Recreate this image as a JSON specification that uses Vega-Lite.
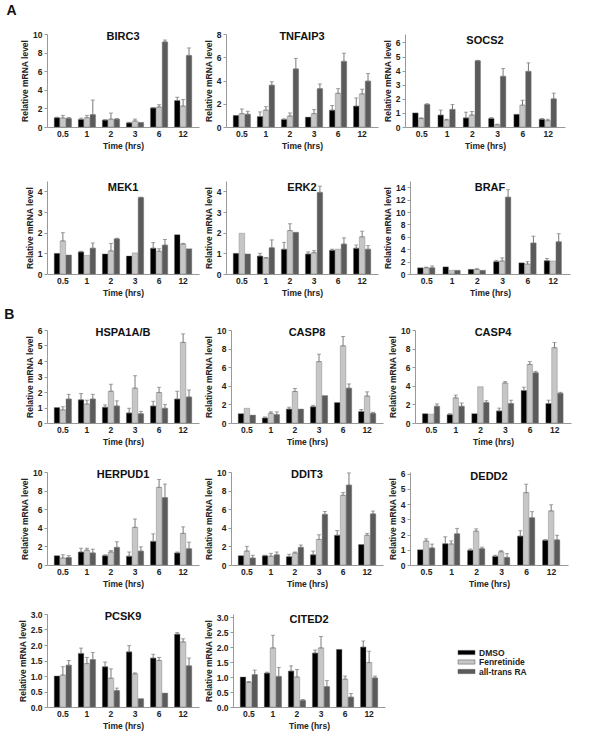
{
"$schema":"https://vega.github.io/schema/vega-lite/v6.json",
"padding":{"left":4,"top":4,"right":4,"bottom":2},
"background":"white",
"config":{
 "view":{"stroke":null},
 "font":"Liberation Sans",
 "axis":{"labelFont":"Liberation Sans","titleFont":"Liberation Sans","labelFontWeight":"bold","titleFontWeight":"bold","labelFontSize":8.5,"titleFontSize":8.5,"labelColor":"#222","titleColor":"#222","domainColor":"#999","tickColor":"#999","grid":false,"labelOverlap":false},
 "axisX":{"ticks":false,"labelAngle":0,"labelPadding":2,"titlePadding":4},
 "axisY":{"tickSize":3,"labelPadding":2,"titlePadding":3},
 "title":{"font":"Liberation Sans","fontSize":11,"fontWeight":"bold","color":"#111","offset":-12,"frame":"group"},
 "errorbar":{"ticks":{"size":4,"color":"#7a7a7a","thickness":1},"rule":{"color":"#7a7a7a","strokeWidth":1}},
 "legend":{"orient":"none","legendX":415,"legendY":614,"symbolType":"M-2,-0.5H2V0.5H-2Z","symbolSize":72,"symbolStrokeColor":"#555","symbolStrokeWidth":0.5,"labelFont":"Liberation Sans","labelFontSize":8.5,"labelFontWeight":"bold","labelColor":"#222","rowPadding":0.5,"labelOffset":8}
},
"data":{"values":[
{"g":"BIRC3","t":"0.5","s":"DMSO","v":1.0,"hi":1.05},{"g":"BIRC3","t":"0.5","s":"Fenretinide","v":0.97,"hi":1.25},{"g":"BIRC3","t":"0.5","s":"all-trans RA","v":0.92,"hi":1.02},
{"g":"BIRC3","t":"1","s":"DMSO","v":0.82,"hi":0.95},{"g":"BIRC3","t":"1","s":"Fenretinide","v":1.0,"hi":1.25},{"g":"BIRC3","t":"1","s":"all-trans RA","v":1.33,"hi":2.9},
{"g":"BIRC3","t":"2","s":"DMSO","v":0.75,"hi":0.78},{"g":"BIRC3","t":"2","s":"Fenretinide","v":0.85,"hi":1.5},{"g":"BIRC3","t":"2","s":"all-trans RA","v":0.85,"hi":0.9},
{"g":"BIRC3","t":"3","s":"DMSO","v":0.45,"hi":0.5},{"g":"BIRC3","t":"3","s":"Fenretinide","v":0.65,"hi":0.85},{"g":"BIRC3","t":"3","s":"all-trans RA","v":0.5,"hi":0.5},
{"g":"BIRC3","t":"6","s":"DMSO","v":2.05,"hi":2.1},{"g":"BIRC3","t":"6","s":"Fenretinide","v":2.15,"hi":2.4},{"g":"BIRC3","t":"6","s":"all-trans RA","v":9.15,"hi":9.35},
{"g":"BIRC3","t":"12","s":"DMSO","v":2.85,"hi":3.2},{"g":"BIRC3","t":"12","s":"Fenretinide","v":2.25,"hi":2.95},{"g":"BIRC3","t":"12","s":"all-trans RA","v":7.7,"hi":8.5},
{"g":"TNFAIP3","t":"0.5","s":"DMSO","v":1.0,"hi":1.0},{"g":"TNFAIP3","t":"0.5","s":"Fenretinide","v":1.15,"hi":1.55},{"g":"TNFAIP3","t":"0.5","s":"all-trans RA","v":1.1,"hi":1.35},
{"g":"TNFAIP3","t":"1","s":"DMSO","v":0.9,"hi":1.3},{"g":"TNFAIP3","t":"1","s":"Fenretinide","v":1.45,"hi":1.75},{"g":"TNFAIP3","t":"1","s":"all-trans RA","v":3.6,"hi":3.9},
{"g":"TNFAIP3","t":"2","s":"DMSO","v":0.65,"hi":0.7},{"g":"TNFAIP3","t":"2","s":"Fenretinide","v":0.95,"hi":1.2},{"g":"TNFAIP3","t":"2","s":"all-trans RA","v":5.0,"hi":5.9},
{"g":"TNFAIP3","t":"3","s":"DMSO","v":0.85,"hi":0.85},{"g":"TNFAIP3","t":"3","s":"Fenretinide","v":1.15,"hi":1.5},{"g":"TNFAIP3","t":"3","s":"all-trans RA","v":3.3,"hi":3.7},
{"g":"TNFAIP3","t":"6","s":"DMSO","v":1.45,"hi":1.85},{"g":"TNFAIP3","t":"6","s":"Fenretinide","v":2.9,"hi":3.3},{"g":"TNFAIP3","t":"6","s":"all-trans RA","v":5.65,"hi":6.35},
{"g":"TNFAIP3","t":"12","s":"DMSO","v":1.8,"hi":2.5},{"g":"TNFAIP3","t":"12","s":"Fenretinide","v":2.85,"hi":3.25},{"g":"TNFAIP3","t":"12","s":"all-trans RA","v":3.95,"hi":4.6},
{"g":"SOCS2","t":"0.5","s":"DMSO","v":1.0,"hi":1.0},{"g":"SOCS2","t":"0.5","s":"Fenretinide","v":0.6,"hi":0.65},{"g":"SOCS2","t":"0.5","s":"all-trans RA","v":1.6,"hi":1.65},
{"g":"SOCS2","t":"1","s":"DMSO","v":0.85,"hi":1.2},{"g":"SOCS2","t":"1","s":"Fenretinide","v":0.5,"hi":0.55},{"g":"SOCS2","t":"1","s":"all-trans RA","v":1.25,"hi":1.6},
{"g":"SOCS2","t":"2","s":"DMSO","v":0.65,"hi":1.05},{"g":"SOCS2","t":"2","s":"Fenretinide","v":0.85,"hi":1.1},{"g":"SOCS2","t":"2","s":"all-trans RA","v":4.7,"hi":4.73},
{"g":"SOCS2","t":"3","s":"DMSO","v":0.6,"hi":0.67},{"g":"SOCS2","t":"3","s":"Fenretinide","v":0.15,"hi":0.2},{"g":"SOCS2","t":"3","s":"all-trans RA","v":3.6,"hi":4.15},
{"g":"SOCS2","t":"6","s":"DMSO","v":0.9,"hi":0.9},{"g":"SOCS2","t":"6","s":"Fenretinide","v":1.55,"hi":1.9},{"g":"SOCS2","t":"6","s":"all-trans RA","v":3.95,"hi":4.55},
{"g":"SOCS2","t":"12","s":"DMSO","v":0.55,"hi":0.6},{"g":"SOCS2","t":"12","s":"Fenretinide","v":0.45,"hi":0.55},{"g":"SOCS2","t":"12","s":"all-trans RA","v":2.0,"hi":2.4},
{"g":"MEK1","t":"0.5","s":"DMSO","v":1.0,"hi":1.0},{"g":"MEK1","t":"0.5","s":"Fenretinide","v":1.6,"hi":2.0},{"g":"MEK1","t":"0.5","s":"all-trans RA","v":0.92,"hi":0.92},
{"g":"MEK1","t":"1","s":"DMSO","v":1.07,"hi":1.1},{"g":"MEK1","t":"1","s":"Fenretinide","v":0.9,"hi":0.9},{"g":"MEK1","t":"1","s":"all-trans RA","v":1.25,"hi":1.5},
{"g":"MEK1","t":"2","s":"DMSO","v":0.97,"hi":0.97},{"g":"MEK1","t":"2","s":"Fenretinide","v":1.12,"hi":1.48},{"g":"MEK1","t":"2","s":"all-trans RA","v":1.7,"hi":1.73},
{"g":"MEK1","t":"3","s":"DMSO","v":0.87,"hi":0.87},{"g":"MEK1","t":"3","s":"Fenretinide","v":1.02,"hi":1.02},{"g":"MEK1","t":"3","s":"all-trans RA","v":3.7,"hi":3.72},
{"g":"MEK1","t":"6","s":"DMSO","v":1.25,"hi":1.52},{"g":"MEK1","t":"6","s":"Fenretinide","v":1.1,"hi":1.22},{"g":"MEK1","t":"6","s":"all-trans RA","v":1.4,"hi":1.67},
{"g":"MEK1","t":"12","s":"DMSO","v":1.9,"hi":1.9},{"g":"MEK1","t":"12","s":"Fenretinide","v":1.45,"hi":1.48},{"g":"MEK1","t":"12","s":"all-trans RA","v":1.22,"hi":1.22},
{"g":"ERK2","t":"0.5","s":"DMSO","v":1.0,"hi":1.0},{"g":"ERK2","t":"0.5","s":"Fenretinide","v":1.97,"hi":1.97},{"g":"ERK2","t":"0.5","s":"all-trans RA","v":0.97,"hi":0.97},
{"g":"ERK2","t":"1","s":"DMSO","v":0.87,"hi":1.0},{"g":"ERK2","t":"1","s":"Fenretinide","v":0.78,"hi":0.8},{"g":"ERK2","t":"1","s":"all-trans RA","v":1.27,"hi":1.65},
{"g":"ERK2","t":"2","s":"DMSO","v":1.2,"hi":1.53},{"g":"ERK2","t":"2","s":"Fenretinide","v":2.1,"hi":2.43},{"g":"ERK2","t":"2","s":"all-trans RA","v":2.02,"hi":2.02},
{"g":"ERK2","t":"3","s":"DMSO","v":0.97,"hi":1.07},{"g":"ERK2","t":"3","s":"Fenretinide","v":1.03,"hi":1.13},{"g":"ERK2","t":"3","s":"all-trans RA","v":3.95,"hi":4.25},
{"g":"ERK2","t":"6","s":"DMSO","v":1.15,"hi":1.2},{"g":"ERK2","t":"6","s":"Fenretinide","v":1.2,"hi":1.2},{"g":"ERK2","t":"6","s":"all-trans RA","v":1.45,"hi":1.75},
{"g":"ERK2","t":"12","s":"DMSO","v":1.25,"hi":1.4},{"g":"ERK2","t":"12","s":"Fenretinide","v":1.8,"hi":2.07},{"g":"ERK2","t":"12","s":"all-trans RA","v":1.2,"hi":1.37},
{"g":"BRAF","t":"0.5","s":"DMSO","v":1.0,"hi":1.0},{"g":"BRAF","t":"0.5","s":"Fenretinide","v":1.0,"hi":1.1},{"g":"BRAF","t":"0.5","s":"all-trans RA","v":1.0,"hi":1.3},
{"g":"BRAF","t":"1","s":"DMSO","v":1.15,"hi":1.15},{"g":"BRAF","t":"1","s":"Fenretinide","v":0.6,"hi":0.6},{"g":"BRAF","t":"1","s":"all-trans RA","v":0.6,"hi":0.6},
{"g":"BRAF","t":"2","s":"DMSO","v":0.75,"hi":0.75},{"g":"BRAF","t":"2","s":"Fenretinide","v":0.75,"hi":0.85},{"g":"BRAF","t":"2","s":"all-trans RA","v":0.6,"hi":0.6},
{"g":"BRAF","t":"3","s":"DMSO","v":2.0,"hi":2.2},{"g":"BRAF","t":"3","s":"Fenretinide","v":2.1,"hi":2.6},{"g":"BRAF","t":"3","s":"all-trans RA","v":12.4,"hi":13.6},
{"g":"BRAF","t":"6","s":"DMSO","v":1.8,"hi":1.8},{"g":"BRAF","t":"6","s":"Fenretinide","v":1.6,"hi":2.0},{"g":"BRAF","t":"6","s":"all-trans RA","v":5.0,"hi":6.1},
{"g":"BRAF","t":"12","s":"DMSO","v":2.15,"hi":2.5},{"g":"BRAF","t":"12","s":"Fenretinide","v":2.1,"hi":2.1},{"g":"BRAF","t":"12","s":"all-trans RA","v":5.2,"hi":6.5},
{"g":"HSPA1A/B","t":"0.5","s":"DMSO","v":1.0,"hi":1.0},{"g":"HSPA1A/B","t":"0.5","s":"Fenretinide","v":0.85,"hi":1.05},{"g":"HSPA1A/B","t":"0.5","s":"all-trans RA","v":1.55,"hi":1.85},
{"g":"HSPA1A/B","t":"1","s":"DMSO","v":1.5,"hi":1.9},{"g":"HSPA1A/B","t":"1","s":"Fenretinide","v":1.22,"hi":1.47},{"g":"HSPA1A/B","t":"1","s":"all-trans RA","v":1.55,"hi":1.85},
{"g":"HSPA1A/B","t":"2","s":"DMSO","v":1.02,"hi":1.17},{"g":"HSPA1A/B","t":"2","s":"Fenretinide","v":2.05,"hi":2.5},{"g":"HSPA1A/B","t":"2","s":"all-trans RA","v":1.1,"hi":1.43},
{"g":"HSPA1A/B","t":"3","s":"DMSO","v":0.65,"hi":0.95},{"g":"HSPA1A/B","t":"3","s":"Fenretinide","v":2.25,"hi":3.05},{"g":"HSPA1A/B","t":"3","s":"all-trans RA","v":0.6,"hi":0.75},
{"g":"HSPA1A/B","t":"6","s":"DMSO","v":1.1,"hi":1.4},{"g":"HSPA1A/B","t":"6","s":"Fenretinide","v":1.97,"hi":2.3},{"g":"HSPA1A/B","t":"6","s":"all-trans RA","v":0.95,"hi":1.2},
{"g":"HSPA1A/B","t":"12","s":"DMSO","v":1.55,"hi":2.05},{"g":"HSPA1A/B","t":"12","s":"Fenretinide","v":5.2,"hi":5.75},{"g":"HSPA1A/B","t":"12","s":"all-trans RA","v":1.68,"hi":2.13},
{"g":"CASP8","t":"0.5","s":"DMSO","v":1.0,"hi":1.0},{"g":"CASP8","t":"0.5","s":"Fenretinide","v":1.58,"hi":1.58},{"g":"CASP8","t":"0.5","s":"all-trans RA","v":0.85,"hi":0.85},
{"g":"CASP8","t":"1","s":"DMSO","v":0.55,"hi":0.65},{"g":"CASP8","t":"1","s":"Fenretinide","v":1.05,"hi":1.2},{"g":"CASP8","t":"1","s":"all-trans RA","v":0.9,"hi":1.2},
{"g":"CASP8","t":"2","s":"DMSO","v":1.5,"hi":1.7},{"g":"CASP8","t":"2","s":"Fenretinide","v":3.4,"hi":3.7},{"g":"CASP8","t":"2","s":"all-trans RA","v":1.5,"hi":1.5},
{"g":"CASP8","t":"3","s":"DMSO","v":1.75,"hi":1.9},{"g":"CASP8","t":"3","s":"Fenretinide","v":6.6,"hi":7.4},{"g":"CASP8","t":"3","s":"all-trans RA","v":2.95,"hi":2.95},
{"g":"CASP8","t":"6","s":"DMSO","v":2.2,"hi":2.2},{"g":"CASP8","t":"6","s":"Fenretinide","v":8.3,"hi":9.3},{"g":"CASP8","t":"6","s":"all-trans RA","v":3.75,"hi":4.2},
{"g":"CASP8","t":"12","s":"DMSO","v":1.25,"hi":1.45},{"g":"CASP8","t":"12","s":"Fenretinide","v":2.9,"hi":3.35},{"g":"CASP8","t":"12","s":"all-trans RA","v":1.05,"hi":1.15},
{"g":"CASP4","t":"0.5","s":"DMSO","v":1.0,"hi":1.0},{"g":"CASP4","t":"0.5","s":"Fenretinide","v":0.95,"hi":0.95},{"g":"CASP4","t":"0.5","s":"all-trans RA","v":1.8,"hi":2.05},
{"g":"CASP4","t":"1","s":"DMSO","v":0.9,"hi":1.0},{"g":"CASP4","t":"1","s":"Fenretinide","v":2.7,"hi":3.0},{"g":"CASP4","t":"1","s":"all-trans RA","v":1.8,"hi":2.15},
{"g":"CASP4","t":"2","s":"DMSO","v":1.0,"hi":1.0},{"g":"CASP4","t":"2","s":"Fenretinide","v":3.9,"hi":3.9},{"g":"CASP4","t":"2","s":"all-trans RA","v":2.2,"hi":2.4},
{"g":"CASP4","t":"3","s":"DMSO","v":1.3,"hi":1.6},{"g":"CASP4","t":"3","s":"Fenretinide","v":4.3,"hi":4.45},{"g":"CASP4","t":"3","s":"all-trans RA","v":2.1,"hi":2.45},
{"g":"CASP4","t":"6","s":"DMSO","v":3.5,"hi":3.85},{"g":"CASP4","t":"6","s":"Fenretinide","v":6.3,"hi":6.6},{"g":"CASP4","t":"6","s":"all-trans RA","v":5.4,"hi":5.55},
{"g":"CASP4","t":"12","s":"DMSO","v":2.1,"hi":2.45},{"g":"CASP4","t":"12","s":"Fenretinide","v":8.1,"hi":8.65},{"g":"CASP4","t":"12","s":"all-trans RA","v":3.2,"hi":3.3},
{"g":"HERPUD1","t":"0.5","s":"DMSO","v":1.0,"hi":1.0},{"g":"HERPUD1","t":"0.5","s":"Fenretinide","v":0.75,"hi":1.1},{"g":"HERPUD1","t":"0.5","s":"all-trans RA","v":0.8,"hi":1.0},
{"g":"HERPUD1","t":"1","s":"DMSO","v":1.4,"hi":1.8},{"g":"HERPUD1","t":"1","s":"Fenretinide","v":1.6,"hi":1.8},{"g":"HERPUD1","t":"1","s":"all-trans RA","v":1.3,"hi":1.7},
{"g":"HERPUD1","t":"2","s":"DMSO","v":1.0,"hi":1.1},{"g":"HERPUD1","t":"2","s":"Fenretinide","v":1.4,"hi":1.55},{"g":"HERPUD1","t":"2","s":"all-trans RA","v":1.9,"hi":2.5},
{"g":"HERPUD1","t":"3","s":"DMSO","v":0.95,"hi":1.4},{"g":"HERPUD1","t":"3","s":"Fenretinide","v":4.05,"hi":4.95},{"g":"HERPUD1","t":"3","s":"all-trans RA","v":1.5,"hi":1.95},
{"g":"HERPUD1","t":"6","s":"DMSO","v":2.55,"hi":3.35},{"g":"HERPUD1","t":"6","s":"Fenretinide","v":8.35,"hi":9.2},{"g":"HERPUD1","t":"6","s":"all-trans RA","v":7.25,"hi":8.7},
{"g":"HERPUD1","t":"12","s":"DMSO","v":1.3,"hi":1.4},{"g":"HERPUD1","t":"12","s":"Fenretinide","v":3.4,"hi":4.1},{"g":"HERPUD1","t":"12","s":"all-trans RA","v":1.75,"hi":2.45},
{"g":"DDIT3","t":"0.5","s":"DMSO","v":1.0,"hi":1.0},{"g":"DDIT3","t":"0.5","s":"Fenretinide","v":1.5,"hi":2.0},{"g":"DDIT3","t":"0.5","s":"all-trans RA","v":0.75,"hi":1.05},
{"g":"DDIT3","t":"1","s":"DMSO","v":1.0,"hi":1.05},{"g":"DDIT3","t":"1","s":"Fenretinide","v":0.95,"hi":1.25},{"g":"DDIT3","t":"1","s":"all-trans RA","v":1.1,"hi":1.4},
{"g":"DDIT3","t":"2","s":"DMSO","v":0.9,"hi":1.15},{"g":"DDIT3","t":"2","s":"Fenretinide","v":1.3,"hi":1.4},{"g":"DDIT3","t":"2","s":"all-trans RA","v":1.9,"hi":2.15},
{"g":"DDIT3","t":"3","s":"DMSO","v":1.1,"hi":1.5},{"g":"DDIT3","t":"3","s":"Fenretinide","v":2.75,"hi":3.25},{"g":"DDIT3","t":"3","s":"all-trans RA","v":5.45,"hi":5.75},
{"g":"DDIT3","t":"6","s":"DMSO","v":3.2,"hi":3.7},{"g":"DDIT3","t":"6","s":"Fenretinide","v":7.5,"hi":7.8},{"g":"DDIT3","t":"6","s":"all-trans RA","v":8.6,"hi":9.9},
{"g":"DDIT3","t":"12","s":"DMSO","v":2.2,"hi":2.2},{"g":"DDIT3","t":"12","s":"Fenretinide","v":3.2,"hi":3.4},{"g":"DDIT3","t":"12","s":"all-trans RA","v":5.5,"hi":5.8},
{"g":"DEDD2","t":"0.5","s":"DMSO","v":1.0,"hi":1.0},{"g":"DEDD2","t":"0.5","s":"Fenretinide","v":1.57,"hi":1.72},{"g":"DEDD2","t":"0.5","s":"all-trans RA","v":1.12,"hi":1.37},
{"g":"DEDD2","t":"1","s":"DMSO","v":1.4,"hi":1.85},{"g":"DEDD2","t":"1","s":"Fenretinide","v":1.38,"hi":1.58},{"g":"DEDD2","t":"1","s":"all-trans RA","v":2.05,"hi":2.4},
{"g":"DEDD2","t":"2","s":"DMSO","v":0.97,"hi":1.05},{"g":"DEDD2","t":"2","s":"Fenretinide","v":2.22,"hi":2.37},{"g":"DEDD2","t":"2","s":"all-trans RA","v":1.07,"hi":1.17},
{"g":"DEDD2","t":"3","s":"DMSO","v":0.57,"hi":0.64},{"g":"DEDD2","t":"3","s":"Fenretinide","v":0.87,"hi":0.94},{"g":"DEDD2","t":"3","s":"all-trans RA","v":0.5,"hi":0.75},
{"g":"DEDD2","t":"6","s":"DMSO","v":1.9,"hi":2.25},{"g":"DEDD2","t":"6","s":"Fenretinide","v":4.75,"hi":5.3},{"g":"DEDD2","t":"6","s":"all-trans RA","v":3.1,"hi":3.5},
{"g":"DEDD2","t":"12","s":"DMSO","v":1.62,"hi":1.67},{"g":"DEDD2","t":"12","s":"Fenretinide","v":3.55,"hi":3.95},{"g":"DEDD2","t":"12","s":"all-trans RA","v":1.65,"hi":1.95},
{"g":"PCSK9","t":"0.5","s":"DMSO","v":1.0,"hi":1.0},{"g":"PCSK9","t":"0.5","s":"Fenretinide","v":1.03,"hi":1.3},{"g":"PCSK9","t":"0.5","s":"all-trans RA","v":1.35,"hi":1.5},
{"g":"PCSK9","t":"1","s":"DMSO","v":1.73,"hi":1.9},{"g":"PCSK9","t":"1","s":"Fenretinide","v":1.4,"hi":1.6},{"g":"PCSK9","t":"1","s":"all-trans RA","v":1.53,"hi":1.76},
{"g":"PCSK9","t":"2","s":"DMSO","v":1.3,"hi":1.45},{"g":"PCSK9","t":"2","s":"Fenretinide","v":0.93,"hi":1.23},{"g":"PCSK9","t":"2","s":"all-trans RA","v":0.53,"hi":0.61},
{"g":"PCSK9","t":"3","s":"DMSO","v":1.78,"hi":1.98},{"g":"PCSK9","t":"3","s":"Fenretinide","v":1.07,"hi":1.1},{"g":"PCSK9","t":"3","s":"all-trans RA","v":0.27,"hi":0.27},
{"g":"PCSK9","t":"6","s":"DMSO","v":1.58,"hi":1.7},{"g":"PCSK9","t":"6","s":"Fenretinide","v":1.5,"hi":1.6},{"g":"PCSK9","t":"6","s":"all-trans RA","v":0.45,"hi":0.45},
{"g":"PCSK9","t":"12","s":"DMSO","v":2.35,"hi":2.4},{"g":"PCSK9","t":"12","s":"Fenretinide","v":2.1,"hi":2.2},{"g":"PCSK9","t":"12","s":"all-trans RA","v":1.33,"hi":1.58},
{"g":"CITED2","t":"0.5","s":"DMSO","v":1.0,"hi":1.0},{"g":"CITED2","t":"0.5","s":"Fenretinide","v":0.82,"hi":0.85},{"g":"CITED2","t":"0.5","s":"all-trans RA","v":1.08,"hi":1.23},
{"g":"CITED2","t":"1","s":"DMSO","v":1.13,"hi":1.16},{"g":"CITED2","t":"1","s":"Fenretinide","v":1.97,"hi":2.39},{"g":"CITED2","t":"1","s":"all-trans RA","v":1.02,"hi":1.32},
{"g":"CITED2","t":"2","s":"DMSO","v":1.2,"hi":1.37},{"g":"CITED2","t":"2","s":"Fenretinide","v":1.0,"hi":1.25},{"g":"CITED2","t":"2","s":"all-trans RA","v":0.22,"hi":0.25},
{"g":"CITED2","t":"3","s":"DMSO","v":1.8,"hi":1.9},{"g":"CITED2","t":"3","s":"Fenretinide","v":1.97,"hi":2.35},{"g":"CITED2","t":"3","s":"all-trans RA","v":0.68,"hi":0.88},
{"g":"CITED2","t":"6","s":"DMSO","v":1.92,"hi":1.92},{"g":"CITED2","t":"6","s":"Fenretinide","v":0.93,"hi":1.03},{"g":"CITED2","t":"6","s":"all-trans RA","v":0.33,"hi":0.45},
{"g":"CITED2","t":"12","s":"DMSO","v":2.0,"hi":2.2},{"g":"CITED2","t":"12","s":"Fenretinide","v":1.48,"hi":1.86},{"g":"CITED2","t":"12","s":"all-trans RA","v":0.97,"hi":1.03}
]},
"spacing":11,
"vconcat":[
{"title":{"text":"A","fontSize":14,"anchor":"start","dx":-14,"offset":12,"frame":"bounds"},
 "spacing":31,
 "vconcat":[
 {"spacing":5,"hconcat":[
  {"title":"BIRC3","width":152,"height":93,"transform":[{"filter":"datum.g==='BIRC3'"}],
   "encoding":{"x":{"field":"t","type":"nominal","sort":["0.5","1","2","3","6","12"],"title":"Time (hrs)","scale":{"paddingInner":0.28,"paddingOuter":0.3}},"xOffset":{"field":"s","type":"nominal","sort":["DMSO","Fenretinide","all-trans RA"],"scale":{"paddingInner":0.06}},"y":{"field":"v","type":"quantitative","title":"Relative mRNA level","scale":{"domain":[0,10],"nice":false},"axis":{"values":[0,2,4,6,8,10],"labelOverlap":false}}},
   "layer":[
    {"mark":{"type":"bar","stroke":"#777","strokeWidth":0.4},"encoding":{"color":{"field":"s","type":"nominal","title":null,"sort":["DMSO","Fenretinide","all-trans RA"],"scale":{"domain":["DMSO","Fenretinide","all-trans RA"],"range":["#000000","#c6c6c6","#5b5b5b"]}}}},
    {"transform":[{"filter":"datum.hi>datum.v"}],"mark":{"type":"errorbar","ticks":true},"encoding":{"y2":{"field":"hi"}}}
   ]},
  {"title":"TNFAIP3","width":152,"height":93,"transform":[{"filter":"datum.g==='TNFAIP3'"}],
   "encoding":{"x":{"field":"t","type":"nominal","sort":["0.5","1","2","3","6","12"],"title":"Time (hrs)","scale":{"paddingInner":0.28,"paddingOuter":0.3}},"xOffset":{"field":"s","type":"nominal","sort":["DMSO","Fenretinide","all-trans RA"],"scale":{"paddingInner":0.06}},"y":{"field":"v","type":"quantitative","title":"Relative mRNA level","scale":{"domain":[0,8],"nice":false},"axis":{"values":[0,2,4,6,8],"labelOverlap":false}}},
   "layer":[
    {"mark":{"type":"bar","stroke":"#777","strokeWidth":0.4},"encoding":{"color":{"field":"s","type":"nominal","title":null,"sort":["DMSO","Fenretinide","all-trans RA"],"scale":{"domain":["DMSO","Fenretinide","all-trans RA"],"range":["#000000","#c6c6c6","#5b5b5b"]}}}},
    {"transform":[{"filter":"datum.hi>datum.v"}],"mark":{"type":"errorbar","ticks":true},"encoding":{"y2":{"field":"hi"}}}
   ]},
  {"title":"SOCS2","width":160,"height":93,"transform":[{"filter":"datum.g==='SOCS2'"}],
   "encoding":{"x":{"field":"t","type":"nominal","sort":["0.5","1","2","3","6","12"],"title":"Time (hrs)","scale":{"paddingInner":0.28,"paddingOuter":0.3}},"xOffset":{"field":"s","type":"nominal","sort":["DMSO","Fenretinide","all-trans RA"],"scale":{"paddingInner":0.06}},"y":{"field":"v","type":"quantitative","title":"Relative mRNA level","scale":{"domain":[0,6.6],"nice":false},"axis":{"values":[0,1,2,3,4,5,6],"labelOverlap":false}}},
   "layer":[
    {"mark":{"type":"bar","stroke":"#777","strokeWidth":0.4},"encoding":{"color":{"field":"s","type":"nominal","title":null,"sort":["DMSO","Fenretinide","all-trans RA"],"scale":{"domain":["DMSO","Fenretinide","all-trans RA"],"range":["#000000","#c6c6c6","#5b5b5b"]}}}},
    {"transform":[{"filter":"datum.hi>datum.v"}],"mark":{"type":"errorbar","ticks":true},"encoding":{"y2":{"field":"hi"}}}
   ]}
 ]},
 {"spacing":5,"hconcat":[
  {"title":"MEK1","width":152,"height":93,"transform":[{"filter":"datum.g==='MEK1'"}],
   "encoding":{"x":{"field":"t","type":"nominal","sort":["0.5","1","2","3","6","12"],"title":"Time (hrs)","scale":{"paddingInner":0.28,"paddingOuter":0.3}},"xOffset":{"field":"s","type":"nominal","sort":["DMSO","Fenretinide","all-trans RA"],"scale":{"paddingInner":0.06}},"y":{"field":"v","type":"quantitative","title":"Relative mRNA level","scale":{"domain":[0,4.5],"nice":false},"axis":{"values":[0,1,2,3,4],"labelOverlap":false}}},
   "layer":[
    {"mark":{"type":"bar","stroke":"#777","strokeWidth":0.4},"encoding":{"color":{"field":"s","type":"nominal","title":null,"sort":["DMSO","Fenretinide","all-trans RA"],"scale":{"domain":["DMSO","Fenretinide","all-trans RA"],"range":["#000000","#c6c6c6","#5b5b5b"]}}}},
    {"transform":[{"filter":"datum.hi>datum.v"}],"mark":{"type":"errorbar","ticks":true},"encoding":{"y2":{"field":"hi"}}}
   ]},
  {"title":"ERK2","width":152,"height":93,"transform":[{"filter":"datum.g==='ERK2'"}],
   "encoding":{"x":{"field":"t","type":"nominal","sort":["0.5","1","2","3","6","12"],"title":"Time (hrs)","scale":{"paddingInner":0.28,"paddingOuter":0.3}},"xOffset":{"field":"s","type":"nominal","sort":["DMSO","Fenretinide","all-trans RA"],"scale":{"paddingInner":0.06}},"y":{"field":"v","type":"quantitative","title":"Relative mRNA level","scale":{"domain":[0,4.5],"nice":false},"axis":{"values":[0,1,2,3,4],"labelOverlap":false}}},
   "layer":[
    {"mark":{"type":"bar","stroke":"#777","strokeWidth":0.4},"encoding":{"color":{"field":"s","type":"nominal","title":null,"sort":["DMSO","Fenretinide","all-trans RA"],"scale":{"domain":["DMSO","Fenretinide","all-trans RA"],"range":["#000000","#c6c6c6","#5b5b5b"]}}}},
    {"transform":[{"filter":"datum.hi>datum.v"}],"mark":{"type":"errorbar","ticks":true},"encoding":{"y2":{"field":"hi"}}}
   ]},
  {"title":"BRAF","width":160,"height":93,"transform":[{"filter":"datum.g==='BRAF'"}],
   "encoding":{"x":{"field":"t","type":"nominal","sort":["0.5","1","2","3","6","12"],"title":"Time (hrs)","scale":{"paddingInner":0.28,"paddingOuter":0.3}},"xOffset":{"field":"s","type":"nominal","sort":["DMSO","Fenretinide","all-trans RA"],"scale":{"paddingInner":0.06}},"y":{"field":"v","type":"quantitative","title":"Relative mRNA level","scale":{"domain":[0,15],"nice":false},"axis":{"values":[0,2,4,6,8,10,12,14],"labelOverlap":false}}},
   "layer":[
    {"mark":{"type":"bar","stroke":"#777","strokeWidth":0.4},"encoding":{"color":{"field":"s","type":"nominal","title":null,"sort":["DMSO","Fenretinide","all-trans RA"],"scale":{"domain":["DMSO","Fenretinide","all-trans RA"],"range":["#000000","#c6c6c6","#5b5b5b"]}}}},
    {"transform":[{"filter":"datum.hi>datum.v"}],"mark":{"type":"errorbar","ticks":true},"encoding":{"y2":{"field":"hi"}}}
   ]}
 ]}
 ]},
{"title":{"text":"B","fontSize":14,"anchor":"start","dx":-14,"offset":4,"frame":"bounds"},
 "spacing":22,
 "vconcat":[
 {"spacing":5,"hconcat":[
  {"title":"HSPA1A/B","width":152,"height":93,"transform":[{"filter":"datum.g==='HSPA1A/B'"}],
   "encoding":{"x":{"field":"t","type":"nominal","sort":["0.5","1","2","3","6","12"],"title":"Time (hrs)","scale":{"paddingInner":0.28,"paddingOuter":0.3}},"xOffset":{"field":"s","type":"nominal","sort":["DMSO","Fenretinide","all-trans RA"],"scale":{"paddingInner":0.06}},"y":{"field":"v","type":"quantitative","title":"Relative mRNA level","scale":{"domain":[0,6],"nice":false},"axis":{"values":[0,1,2,3,4,5,6],"labelOverlap":false}}},
   "layer":[
    {"mark":{"type":"bar","stroke":"#777","strokeWidth":0.4},"encoding":{"color":{"field":"s","type":"nominal","title":null,"sort":["DMSO","Fenretinide","all-trans RA"],"scale":{"domain":["DMSO","Fenretinide","all-trans RA"],"range":["#000000","#c6c6c6","#5b5b5b"]}}}},
    {"transform":[{"filter":"datum.hi>datum.v"}],"mark":{"type":"errorbar","ticks":true},"encoding":{"y2":{"field":"hi"}}}
   ]},
  {"title":"CASP8","width":152,"height":93,"transform":[{"filter":"datum.g==='CASP8'"}],
   "encoding":{"x":{"field":"t","type":"nominal","sort":["0.5","1","2","3","6","12"],"title":"Time (hrs)","scale":{"paddingInner":0.28,"paddingOuter":0.3}},"xOffset":{"field":"s","type":"nominal","sort":["DMSO","Fenretinide","all-trans RA"],"scale":{"paddingInner":0.06}},"y":{"field":"v","type":"quantitative","title":"Relative mRNA level","scale":{"domain":[0,10],"nice":false},"axis":{"values":[0,2,4,6,8,10],"labelOverlap":false}}},
   "layer":[
    {"mark":{"type":"bar","stroke":"#777","strokeWidth":0.4},"encoding":{"color":{"field":"s","type":"nominal","title":null,"sort":["DMSO","Fenretinide","all-trans RA"],"scale":{"domain":["DMSO","Fenretinide","all-trans RA"],"range":["#000000","#c6c6c6","#5b5b5b"]}}}},
    {"transform":[{"filter":"datum.hi>datum.v"}],"mark":{"type":"errorbar","ticks":true},"encoding":{"y2":{"field":"hi"}}}
   ]},
  {"title":"CASP4","width":156,"height":93,"transform":[{"filter":"datum.g==='CASP4'"}],
   "encoding":{"x":{"field":"t","type":"nominal","sort":["0.5","1","2","3","6","12"],"title":"Time (hrs)","scale":{"paddingInner":0.28,"paddingOuter":0.3}},"xOffset":{"field":"s","type":"nominal","sort":["DMSO","Fenretinide","all-trans RA"],"scale":{"paddingInner":0.06}},"y":{"field":"v","type":"quantitative","title":"Relative mRNA level","scale":{"domain":[0,10],"nice":false},"axis":{"values":[0,2,4,6,8,10],"labelOverlap":false}}},
   "layer":[
    {"mark":{"type":"bar","stroke":"#777","strokeWidth":0.4},"encoding":{"color":{"field":"s","type":"nominal","title":null,"sort":["DMSO","Fenretinide","all-trans RA"],"scale":{"domain":["DMSO","Fenretinide","all-trans RA"],"range":["#000000","#c6c6c6","#5b5b5b"]}}}},
    {"transform":[{"filter":"datum.hi>datum.v"}],"mark":{"type":"errorbar","ticks":true},"encoding":{"y2":{"field":"hi"}}}
   ]}
 ]},
 {"spacing":5,"hconcat":[
  {"title":"HERPUD1","width":152,"height":93,"transform":[{"filter":"datum.g==='HERPUD1'"}],
   "encoding":{"x":{"field":"t","type":"nominal","sort":["0.5","1","2","3","6","12"],"title":"Time (hrs)","scale":{"paddingInner":0.28,"paddingOuter":0.3}},"xOffset":{"field":"s","type":"nominal","sort":["DMSO","Fenretinide","all-trans RA"],"scale":{"paddingInner":0.06}},"y":{"field":"v","type":"quantitative","title":"Relative mRNA level","scale":{"domain":[0,10],"nice":false},"axis":{"values":[0,2,4,6,8,10],"labelOverlap":false}}},
   "layer":[
    {"mark":{"type":"bar","stroke":"#777","strokeWidth":0.4},"encoding":{"color":{"field":"s","type":"nominal","title":null,"sort":["DMSO","Fenretinide","all-trans RA"],"scale":{"domain":["DMSO","Fenretinide","all-trans RA"],"range":["#000000","#c6c6c6","#5b5b5b"]}}}},
    {"transform":[{"filter":"datum.hi>datum.v"}],"mark":{"type":"errorbar","ticks":true},"encoding":{"y2":{"field":"hi"}}}
   ]},
  {"title":"DDIT3","width":152,"height":93,"transform":[{"filter":"datum.g==='DDIT3'"}],
   "encoding":{"x":{"field":"t","type":"nominal","sort":["0.5","1","2","3","6","12"],"title":"Time (hrs)","scale":{"paddingInner":0.28,"paddingOuter":0.3}},"xOffset":{"field":"s","type":"nominal","sort":["DMSO","Fenretinide","all-trans RA"],"scale":{"paddingInner":0.06}},"y":{"field":"v","type":"quantitative","title":"Relative mRNA level","scale":{"domain":[0,10],"nice":false},"axis":{"values":[0,2,4,6,8,10],"labelOverlap":false}}},
   "layer":[
    {"mark":{"type":"bar","stroke":"#777","strokeWidth":0.4},"encoding":{"color":{"field":"s","type":"nominal","title":null,"sort":["DMSO","Fenretinide","all-trans RA"],"scale":{"domain":["DMSO","Fenretinide","all-trans RA"],"range":["#000000","#c6c6c6","#5b5b5b"]}}}},
    {"transform":[{"filter":"datum.hi>datum.v"}],"mark":{"type":"errorbar","ticks":true},"encoding":{"y2":{"field":"hi"}}}
   ]},
  {"title":"DEDD2","width":158,"height":93,"transform":[{"filter":"datum.g==='DEDD2'"}],
   "encoding":{"x":{"field":"t","type":"nominal","sort":["0.5","1","2","3","6","12"],"title":"Time (hrs)","scale":{"paddingInner":0.28,"paddingOuter":0.3}},"xOffset":{"field":"s","type":"nominal","sort":["DMSO","Fenretinide","all-trans RA"],"scale":{"paddingInner":0.06}},"y":{"field":"v","type":"quantitative","title":"Relative mRNA level","scale":{"domain":[0,6.1],"nice":false},"axis":{"values":[0,1,2,3,4,5,6],"labelOverlap":false}}},
   "layer":[
    {"mark":{"type":"bar","stroke":"#777","strokeWidth":0.4},"encoding":{"color":{"field":"s","type":"nominal","title":null,"sort":["DMSO","Fenretinide","all-trans RA"],"scale":{"domain":["DMSO","Fenretinide","all-trans RA"],"range":["#000000","#c6c6c6","#5b5b5b"]}}}},
    {"transform":[{"filter":"datum.hi>datum.v"}],"mark":{"type":"errorbar","ticks":true},"encoding":{"y2":{"field":"hi"}}}
   ]}
 ]},
 {"spacing":5,"hconcat":[
  {"title":"PCSK9","width":152,"height":93,"transform":[{"filter":"datum.g==='PCSK9'"}],
   "encoding":{"x":{"field":"t","type":"nominal","sort":["0.5","1","2","3","6","12"],"title":"Time (hrs)","scale":{"paddingInner":0.28,"paddingOuter":0.3}},"xOffset":{"field":"s","type":"nominal","sort":["DMSO","Fenretinide","all-trans RA"],"scale":{"paddingInner":0.06}},"y":{"field":"v","type":"quantitative","title":"Relative mRNA level","scale":{"domain":[0,3],"nice":false},"axis":{"values":[0,0.5,1,1.5,2,2.5,3],"format":".1f","labelOverlap":false}}},
   "layer":[
    {"mark":{"type":"bar","stroke":"#777","strokeWidth":0.4},"encoding":{"color":{"field":"s","type":"nominal","title":null,"sort":["DMSO","Fenretinide","all-trans RA"],"scale":{"domain":["DMSO","Fenretinide","all-trans RA"],"range":["#000000","#c6c6c6","#5b5b5b"]}}}},
    {"transform":[{"filter":"datum.hi>datum.v"}],"mark":{"type":"errorbar","ticks":true},"encoding":{"y2":{"field":"hi"}}}
   ]},
  {"title":"CITED2","width":152,"height":93,"transform":[{"filter":"datum.g==='CITED2'"}],
   "encoding":{"x":{"field":"t","type":"nominal","sort":["0.5","1","2","3","6","12"],"title":"Time (hrs)","scale":{"paddingInner":0.28,"paddingOuter":0.3}},"xOffset":{"field":"s","type":"nominal","sort":["DMSO","Fenretinide","all-trans RA"],"scale":{"paddingInner":0.06}},"y":{"field":"v","type":"quantitative","title":"Relative mRNA level","scale":{"domain":[0,3.1],"nice":false},"axis":{"values":[0,0.5,1,1.5,2,2.5,3],"format":".1f","labelOverlap":false}}},
   "layer":[
    {"mark":{"type":"bar","stroke":"#777","strokeWidth":0.4},"encoding":{"color":{"field":"s","type":"nominal","title":null,"sort":["DMSO","Fenretinide","all-trans RA"],"scale":{"domain":["DMSO","Fenretinide","all-trans RA"],"range":["#000000","#c6c6c6","#5b5b5b"]}}}},
    {"transform":[{"filter":"datum.hi>datum.v"}],"mark":{"type":"errorbar","ticks":true},"encoding":{"y2":{"field":"hi"}}}
   ]}
 ]}
 ]}
]
}
